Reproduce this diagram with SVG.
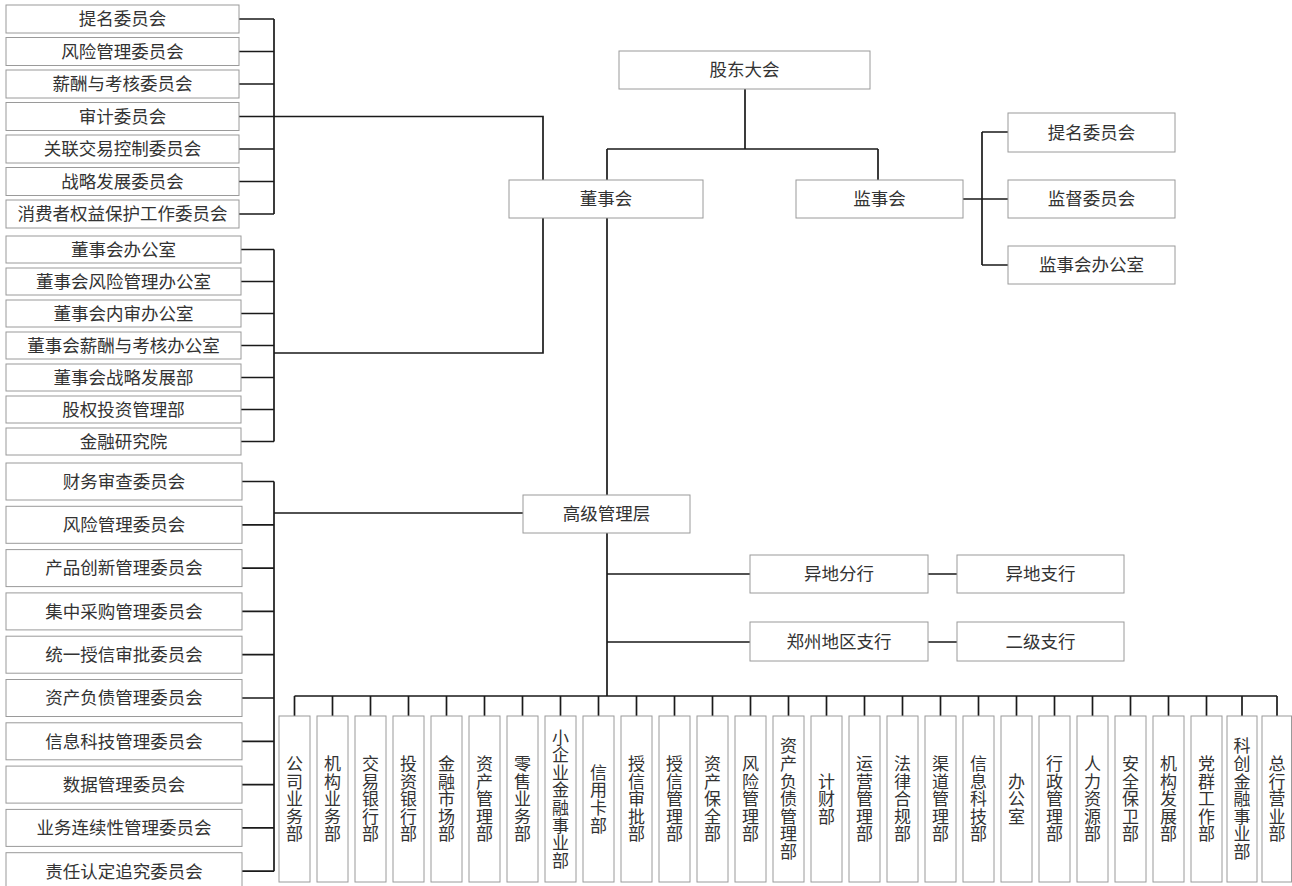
<svg xmlns="http://www.w3.org/2000/svg" width="1292" height="886" viewBox="0 0 1292 886">
<style>
.box{fill:#fff;stroke:#9a9a9a;stroke-width:1}
.t{font-family:"Noto Sans CJK SC","Noto Sans CJK JP",sans-serif;font-size:17.5px;fill:#333;text-anchor:middle}
.v{font-family:"Noto Sans CJK SC","Noto Sans CJK JP",sans-serif;font-size:17px;fill:#333;text-anchor:middle;writing-mode:vertical-rl;letter-spacing:0.6px}
.ln{fill:none;stroke:#1a1a1a;stroke-width:1.7}
</style>
<rect width="1292" height="886" fill="#fff"/>
<g id="connectors" class="ln">
<path d="M239 19H274M239 51.5H274M239 84H274M239 116.5H274M239 149H274M239 181.5H274M239 214H274M274 19V214M274 116.5H543V180"/>
<path d="M241 249.5H274M241 281.5H274M241 313.5H274M241 345.5H274M241 377.5H274M241 409.5H274M241 441.5H274M274 249.5V441.5M274 353H543V218"/>
<path d="M242 481.5H274M242 524.8H274M242 568.1H274M242 611.4H274M242 654.7H274M242 698H274M242 741.3H274M242 784.6H274M242 827.9H274M242 871.2H274M274 481.5V871.2M274 513H523"/>
<path d="M745 89V149M607 149H878M607 149V180M878 149V180"/>
<path d="M607 218V495M607 533V696M607 574H750M607 642H750M928 574H957M928 642H957"/>
<path d="M963 199H982M982 132V265M982 132H1008M982 199H1008M982 265H1008"/>
<path d="M294.5 696H1277M294.5 696V716M332.5 696V716M370.5 696V716M408.5 696V716M446.5 696V716M484.5 696V716M522.5 696V716M560.5 696V716M598.5 696V716M636.5 696V716M674.5 696V716M712.5 696V716M750.5 696V716M788.5 696V716M826.5 696V716M864.5 696V716M902.5 696V716M940.5 696V716M978.5 696V716M1016.5 696V716M1054.5 696V716M1092.5 696V716M1130.5 696V716M1168.5 696V716M1206.5 696V716M1242 696V716M1277 696V716"/>
</g>
<g id="n-gudong"><rect class="box" x="619" y="51" width="251" height="38"/><text class="t" x="744.5" y="76.3">股东大会</text></g>
<g id="n-dongshihui"><rect class="box" x="509" y="180" width="194" height="38"/><text class="t" x="606" y="205.3">董事会</text></g>
<g id="n-jianshihui"><rect class="box" x="796" y="180" width="167" height="38"/><text class="t" x="879.5" y="205.3">监事会</text></g>
<g id="n-js-timing"><rect class="box" x="1008" y="113" width="167" height="39"/><text class="t" x="1091.5" y="138.8">提名委员会</text></g>
<g id="n-js-jiandu"><rect class="box" x="1008" y="180" width="167" height="38"/><text class="t" x="1091.5" y="205.3">监督委员会</text></g>
<g id="n-js-office"><rect class="box" x="1008" y="246" width="167" height="38"/><text class="t" x="1091.5" y="271.3">监事会办公室</text></g>
<g id="n-gaoguan"><rect class="box" x="523" y="495" width="167" height="38"/><text class="t" x="606.5" y="520.3">高级管理层</text></g>
<g id="n-yidifenhang"><rect class="box" x="750" y="555" width="178" height="38"/><text class="t" x="839" y="580.3">异地分行</text></g>
<g id="n-yidizhihang"><rect class="box" x="957" y="555" width="167" height="38"/><text class="t" x="1040.5" y="580.3">异地支行</text></g>
<g id="n-zhengzhou"><rect class="box" x="750" y="622" width="178" height="39"/><text class="t" x="839" y="647.8">郑州地区支行</text></g>
<g id="n-erji"><rect class="box" x="957" y="622" width="167" height="39"/><text class="t" x="1040.5" y="647.8">二级支行</text></g>
<g id="n-c1-1"><rect class="box" x="6" y="5" width="233" height="28"/><text class="t" x="122.5" y="25.3">提名委员会</text></g>
<g id="n-c1-2"><rect class="box" x="6" y="37.5" width="233" height="28"/><text class="t" x="122.5" y="57.8">风险管理委员会</text></g>
<g id="n-c1-3"><rect class="box" x="6" y="70" width="233" height="28"/><text class="t" x="122.5" y="90.3">薪酬与考核委员会</text></g>
<g id="n-c1-4"><rect class="box" x="6" y="102.5" width="233" height="28"/><text class="t" x="122.5" y="122.8">审计委员会</text></g>
<g id="n-c1-5"><rect class="box" x="6" y="135" width="233" height="28"/><text class="t" x="122.5" y="155.3">关联交易控制委员会</text></g>
<g id="n-c1-6"><rect class="box" x="6" y="167.5" width="233" height="28"/><text class="t" x="122.5" y="187.8">战略发展委员会</text></g>
<g id="n-c1-7"><rect class="box" x="6" y="200" width="233" height="28"/><text class="t" x="122.5" y="220.3">消费者权益保护工作委员会</text></g>
<g id="n-c2-1"><rect class="box" x="6" y="236" width="235" height="27"/><text class="t" x="123.5" y="255.8">董事会办公室</text></g>
<g id="n-c2-2"><rect class="box" x="6" y="268" width="235" height="27"/><text class="t" x="123.5" y="287.8">董事会风险管理办公室</text></g>
<g id="n-c2-3"><rect class="box" x="6" y="300" width="235" height="27"/><text class="t" x="123.5" y="319.8">董事会内审办公室</text></g>
<g id="n-c2-4"><rect class="box" x="6" y="332" width="235" height="27"/><text class="t" x="123.5" y="351.8">董事会薪酬与考核办公室</text></g>
<g id="n-c2-5"><rect class="box" x="6" y="364" width="235" height="27"/><text class="t" x="123.5" y="383.8">董事会战略发展部</text></g>
<g id="n-c2-6"><rect class="box" x="6" y="396" width="235" height="27"/><text class="t" x="123.5" y="415.8">股权投资管理部</text></g>
<g id="n-c2-7"><rect class="box" x="6" y="428" width="235" height="27"/><text class="t" x="123.5" y="447.8">金融研究院</text></g>
<g id="n-c3-1"><rect class="box" x="6" y="463" width="236" height="37"/><text class="t" x="124" y="487.8">财务审查委员会</text></g>
<g id="n-c3-2"><rect class="box" x="6" y="506.3" width="236" height="37"/><text class="t" x="124" y="531.1">风险管理委员会</text></g>
<g id="n-c3-3"><rect class="box" x="6" y="549.6" width="236" height="37"/><text class="t" x="124" y="574.4">产品创新管理委员会</text></g>
<g id="n-c3-4"><rect class="box" x="6" y="592.9" width="236" height="37"/><text class="t" x="124" y="617.7">集中采购管理委员会</text></g>
<g id="n-c3-5"><rect class="box" x="6" y="636.2" width="236" height="37"/><text class="t" x="124" y="661">统一授信审批委员会</text></g>
<g id="n-c3-6"><rect class="box" x="6" y="679.5" width="236" height="37"/><text class="t" x="124" y="704.3">资产负债管理委员会</text></g>
<g id="n-c3-7"><rect class="box" x="6" y="722.8" width="236" height="37"/><text class="t" x="124" y="747.6">信息科技管理委员会</text></g>
<g id="n-c3-8"><rect class="box" x="6" y="766.1" width="236" height="37"/><text class="t" x="124" y="790.9">数据管理委员会</text></g>
<g id="n-c3-9"><rect class="box" x="6" y="809.4" width="236" height="37"/><text class="t" x="124" y="834.2">业务连续性管理委员会</text></g>
<g id="n-c3-10"><rect class="box" x="6" y="852.7" width="236" height="37"/><text class="t" x="124" y="877.5">责任认定追究委员会</text></g>
<g id="n-d1"><rect class="box" x="279" y="716" width="31" height="166"/><text class="v" x="294.5" y="799">公司业务部</text></g>
<g id="n-d2"><rect class="box" x="317" y="716" width="31" height="166"/><text class="v" x="332.5" y="799">机构业务部</text></g>
<g id="n-d3"><rect class="box" x="355" y="716" width="31" height="166"/><text class="v" x="370.5" y="799">交易银行部</text></g>
<g id="n-d4"><rect class="box" x="393" y="716" width="31" height="166"/><text class="v" x="408.5" y="799">投资银行部</text></g>
<g id="n-d5"><rect class="box" x="431" y="716" width="31" height="166"/><text class="v" x="446.5" y="799">金融市场部</text></g>
<g id="n-d6"><rect class="box" x="469" y="716" width="31" height="166"/><text class="v" x="484.5" y="799">资产管理部</text></g>
<g id="n-d7"><rect class="box" x="507" y="716" width="31" height="166"/><text class="v" x="522.5" y="799">零售业务部</text></g>
<g id="n-d8"><rect class="box" x="545" y="716" width="31" height="166"/><text class="v" x="560.5" y="799">小企业金融事业部</text></g>
<g id="n-d9"><rect class="box" x="583" y="716" width="31" height="166"/><text class="v" x="598.5" y="799">信用卡部</text></g>
<g id="n-d10"><rect class="box" x="621" y="716" width="31" height="166"/><text class="v" x="636.5" y="799">授信审批部</text></g>
<g id="n-d11"><rect class="box" x="659" y="716" width="31" height="166"/><text class="v" x="674.5" y="799">授信管理部</text></g>
<g id="n-d12"><rect class="box" x="697" y="716" width="31" height="166"/><text class="v" x="712.5" y="799">资产保全部</text></g>
<g id="n-d13"><rect class="box" x="735" y="716" width="31" height="166"/><text class="v" x="750.5" y="799">风险管理部</text></g>
<g id="n-d14"><rect class="box" x="773" y="716" width="31" height="166"/><text class="v" x="788.5" y="799">资产负债管理部</text></g>
<g id="n-d15"><rect class="box" x="811" y="716" width="31" height="166"/><text class="v" x="826.5" y="799">计财部</text></g>
<g id="n-d16"><rect class="box" x="849" y="716" width="31" height="166"/><text class="v" x="864.5" y="799">运营管理部</text></g>
<g id="n-d17"><rect class="box" x="887" y="716" width="31" height="166"/><text class="v" x="902.5" y="799">法律合规部</text></g>
<g id="n-d18"><rect class="box" x="925" y="716" width="31" height="166"/><text class="v" x="940.5" y="799">渠道管理部</text></g>
<g id="n-d19"><rect class="box" x="963" y="716" width="31" height="166"/><text class="v" x="978.5" y="799">信息科技部</text></g>
<g id="n-d20"><rect class="box" x="1001" y="716" width="31" height="166"/><text class="v" x="1016.5" y="799">办公室</text></g>
<g id="n-d21"><rect class="box" x="1039" y="716" width="31" height="166"/><text class="v" x="1054.5" y="799">行政管理部</text></g>
<g id="n-d22"><rect class="box" x="1077" y="716" width="31" height="166"/><text class="v" x="1092.5" y="799">人力资源部</text></g>
<g id="n-d23"><rect class="box" x="1115" y="716" width="31" height="166"/><text class="v" x="1130.5" y="799">安全保卫部</text></g>
<g id="n-d24"><rect class="box" x="1153" y="716" width="31" height="166"/><text class="v" x="1168.5" y="799">机构发展部</text></g>
<g id="n-d25"><rect class="box" x="1191" y="716" width="31" height="166"/><text class="v" x="1206.5" y="799">党群工作部</text></g>
<g id="n-d26"><rect class="box" x="1227" y="716" width="30" height="166"/><text class="v" x="1242" y="799">科创金融事业部</text></g>
<g id="n-d27"><rect class="box" x="1262" y="716" width="29.5" height="166"/><text class="v" x="1277" y="799">总行营业部</text></g>
</svg>
